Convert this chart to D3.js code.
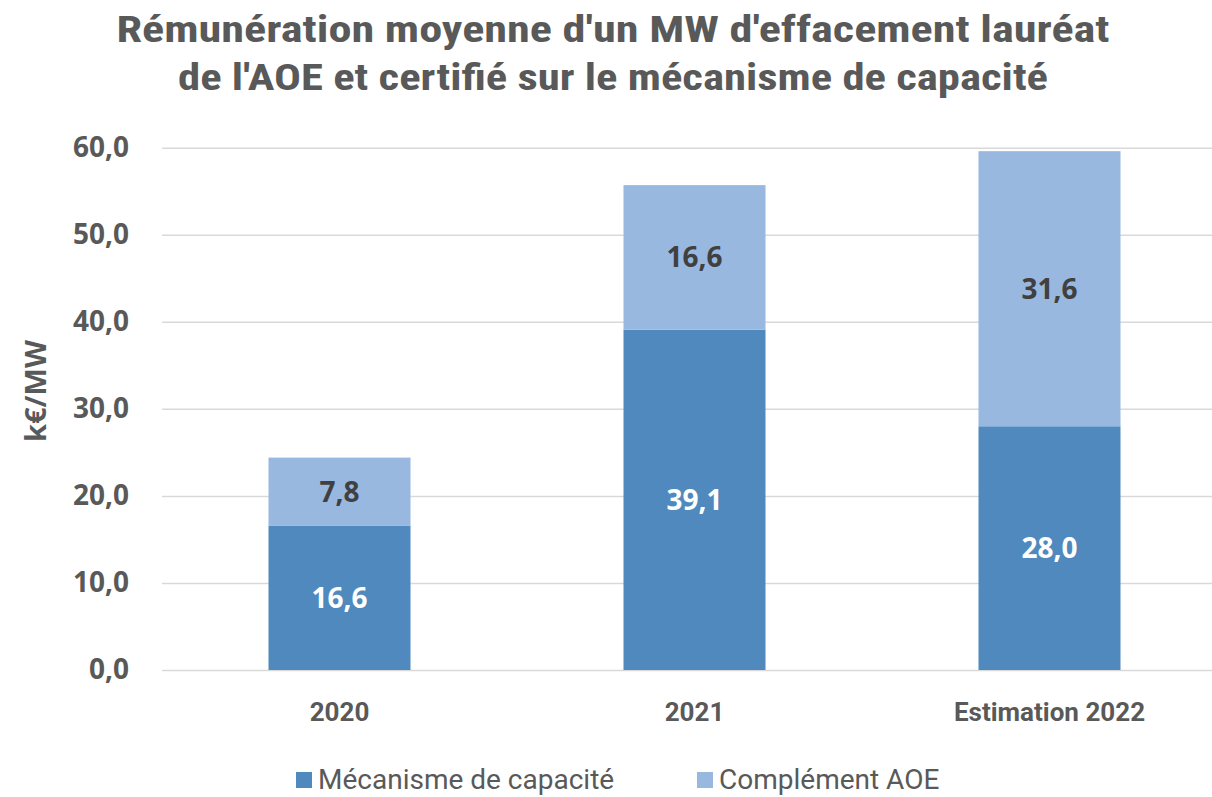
<!DOCTYPE html>
<html>
<head>
<meta charset="utf-8">
<script src="https://cdn.jsdelivr.net/npm/d3@7"></script>
<style>
  body { margin: 0; background: #fff; }
  svg { display: block; }
</style>
</head>
<body>
<div id="chart"></div>
<script>
// Data ------------------------------------------------------------------------------------------------------------
const categories = ["2020", "2021", "Estimation 2022"];
const mecanisme = [16.6, 39.1, 28.0];
const complement = [7.8, 16.6, 31.6];
const seriesNames = ["Mécanisme de capacité", "Complément AOE"];
const yTicks = [0, 10, 20, 30, 40, 50, 60];

// Canvas ----------------------------------------------------------------------------------------------------------
const canvasWidth = 1212;
const canvasHeight = 797;

const leftPadding = 162;
const rightEdge = 1227;
const topPlot = 147.7;
const bottomPlot = 670;

const textColor = "#595959";
const colors = ["#4F89BD", "#98B8DF"];
const narrowFont = "'Liberation Sans Narrow', 'Arial Narrow', 'Roboto Condensed', sans-serif";
const roundFont = "'Open Sans', 'DejaVu Sans', sans-serif";
const plainFont = "Roboto, 'Liberation Sans', sans-serif";

const svg = d3.select("#chart")
  .append("svg")
  .attr("width", canvasWidth)
  .attr("height", canvasHeight);

const xScale = d3.scaleBand()
  .domain(categories)
  .range([leftPadding, rightEdge])
  .paddingInner(0.6)
  .paddingOuter(0.3);

const yScale = d3.scaleLinear()
  .domain([0, 60])
  .range([bottomPlot, topPlot]);

// Title
const title = svg.append("text")
  .style("font-family", narrowFont)
  .style("font-weight", "bold")
  .style("font-size", "36px")
  .style("fill", textColor)
  .attr("text-anchor", "middle");
title.append("tspan").attr("x", 613).attr("y", 42)
  .attr("textLength", 993).attr("lengthAdjust", "spacingAndGlyphs")
  .text("Rémunération moyenne d'un MW d'effacement lauréat");
title.append("tspan").attr("x", 613).attr("y", 90)
  .attr("textLength", 870).attr("lengthAdjust", "spacingAndGlyphs")
  .text("de l'AOE et certifié sur le mécanisme de capacité");

// Gridlines and y axis
const yAxis = svg.append("g")
  .attr("transform", "translate(" + leftPadding + ",0)")
  .call(d3.axisLeft(yScale).tickValues(yTicks).tickSize(-(rightEdge - leftPadding)).tickPadding(33)
    .tickFormat(d => d3.format(".1f")(d).replace(".", ",")));
yAxis.select(".domain").remove();
yAxis.selectAll("line")
  .style("stroke", "#D9D9D9")
  .style("stroke-width", 1.5);
yAxis.selectAll("text")
  .style("font-family", roundFont)
  .style("font-weight", "bold")
  .style("font-size", "28px")
  .style("fill", textColor);

// Y label
svg.append("text")
  .text("k€/MW")
  .attr("transform", "translate(46,391) rotate(-90)")
  .attr("text-anchor", "middle")
  .style("font-family", roundFont)
  .style("font-weight", "bold")
  .style("font-size", "29px")
  .style("fill", textColor);

// Stacked bars
const table = categories.map((c, i) => ({ cat: c, mecanisme: mecanisme[i], complement: complement[i] }));
const stacked = d3.stack().keys(["mecanisme", "complement"])(table);

const barGroups = svg.append("g")
  .selectAll("g")
  .data(stacked)
  .join("g")
  .attr("fill", (d, i) => colors[i]);

barGroups.selectAll("rect")
  .data(d => d)
  .join("rect")
  .attr("x", d => xScale(d.data.cat))
  .attr("y", d => yScale(d[1]))
  .attr("width", xScale.bandwidth())
  .attr("height", d => yScale(d[0]) - yScale(d[1]));

// Data labels
barGroups.each(function(series, si) {
  d3.select(this).selectAll("text")
    .data(series)
    .join("text")
    .attr("x", d => xScale(d.data.cat) + xScale.bandwidth() / 2)
    .attr("y", d => (yScale(d[0]) + yScale(d[1])) / 2)
    .attr("dy", "0.36em")
    .attr("text-anchor", "middle")
    .style("font-family", roundFont)
    .style("font-weight", "bold")
    .style("font-size", "28px")
    .style("fill", si === 0 ? "#FFFFFF" : "#404040")
    .text(d => d3.format(".1f")(d[1] - d[0]).replace(".", ","));
});

// X labels
svg.append("g")
  .selectAll("text")
  .data(categories)
  .join("text")
  .attr("x", d => xScale(d) + xScale.bandwidth() / 2)
  .attr("y", 721)
  .attr("text-anchor", "middle")
  .style("font-family", plainFont)
  .style("font-weight", "bold")
  .style("font-size", "26px")
  .style("fill", textColor)
  .text(d => d);

// Legend
const legendX = [296, 697];
const legend = svg.append("g")
  .selectAll("g")
  .data(seriesNames)
  .join("g")
  .attr("transform", (d, i) => "translate(" + legendX[i] + ",772)");
legend.append("rect")
  .attr("width", 16)
  .attr("height", 16)
  .attr("fill", (d, i) => colors[i]);
legend.append("text")
  .attr("x", 22)
  .attr("y", 17)
  .style("font-family", plainFont)
  .style("font-size", "28px")
  .style("fill", textColor)
  .text(d => d);
</script>
</body>
</html>
